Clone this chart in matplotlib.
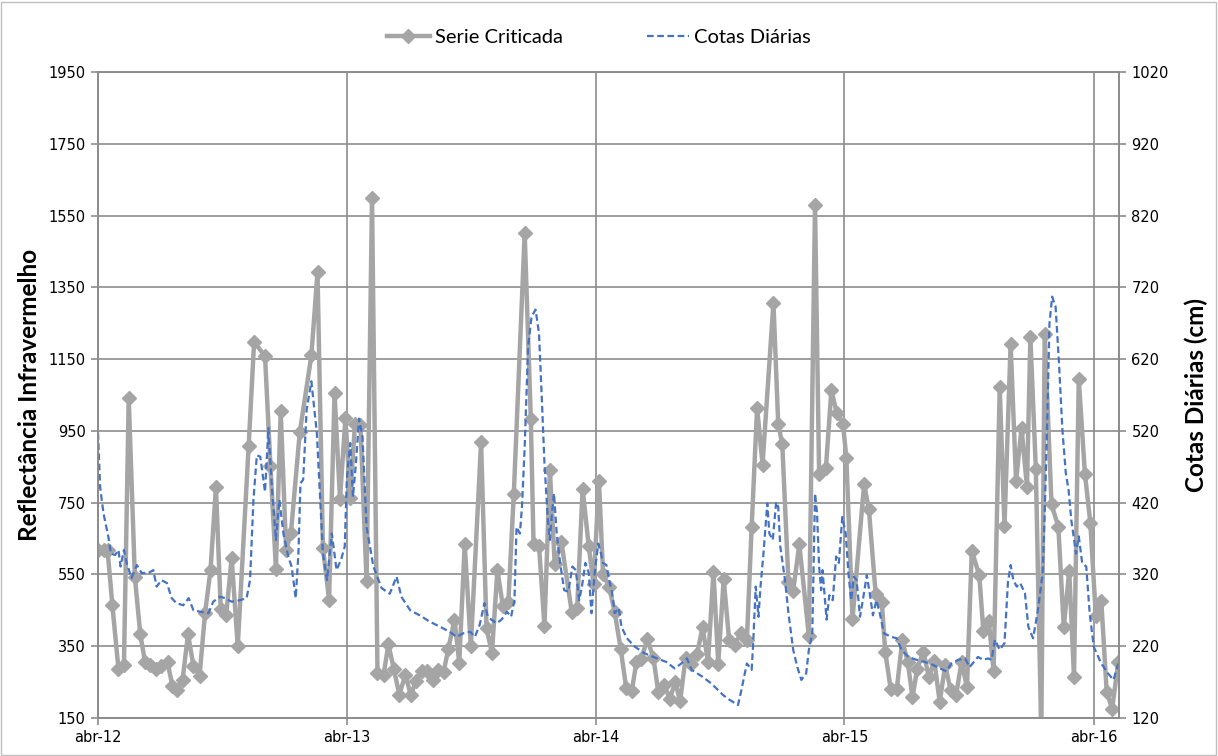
import numpy as np
import matplotlib.pyplot as plt
from matplotlib.patches import Rectangle

# dias contados a partir de 01/04/2012
INICIO = np.datetime64('2012-04-01')
FIM_DIAS = 1498

serie_dias = [0, 8, 14, 21, 30, 38, 45, 54, 62, 69, 76, 85, 93, 102, 109, 116, 124, 132, 140, 149,
              157, 165, 173, 180, 188, 196, 205, 221, 229, 245, 253, 261, 268, 276, 283, 296, 313, 322,
              330, 339, 347, 355, 363, 370, 377, 385, 394, 402, 410, 419, 426, 434, 442, 451, 459, 466,
              475, 483, 491, 499, 507, 514, 523, 530, 538, 547, 562, 570, 578, 586, 594, 602, 610, 626,
              635, 639, 647, 655, 663, 670, 680, 695, 703, 711, 720, 727, 735, 741, 750, 758, 767, 775,
              783, 790, 797, 806, 815, 822, 831, 839, 847, 854, 862, 870, 879, 887, 895, 903, 910, 918,
              926, 934, 943, 952, 959, 967, 975, 991, 998, 1004, 1013, 1020, 1029, 1043, 1052, 1058,
              1068, 1076, 1084, 1093, 1098, 1107, 1124, 1131, 1141, 1150, 1155, 1163, 1172, 1180, 1188,
              1195, 1202, 1211, 1219, 1227, 1235, 1243, 1251, 1259, 1267, 1275, 1282, 1293, 1299, 1307,
              1314, 1323, 1330, 1339, 1347, 1355, 1363, 1368, 1376, 1384, 1389, 1399, 1409, 1417, 1425,
              1432, 1439, 1448, 1456, 1464, 1472, 1480, 1488, 1497]
serie_refl = [619, 617, 617, 464, 286, 298, 1041, 543, 383, 305, 297, 286, 294, 305, 240, 229, 256, 383,
              295, 268, 442, 562, 793, 455, 436, 596, 350, 909, 1198, 1158, 851, 566, 1005, 617, 666,
              946, 1160, 1392, 624, 479, 1055, 760, 987, 764, 970, 965, 531, 1600, 276, 270, 355, 287,
              215, 270, 213, 252, 282, 282, 255, 285, 278, 343, 424, 304, 634, 350, 918, 400, 331, 563,
              461, 472, 773, 1500, 983, 634, 630, 406, 841, 579, 639, 446, 456, 789, 628, 523, 810, 551,
              514, 446, 341, 233, 224, 306, 315, 369, 317, 222, 241, 204, 250, 196, 316, 301, 329, 403,
              306, 558, 301, 537, 366, 352, 387, 366, 681, 1014, 856, 1307, 970, 912, 530, 505, 634, 378,
              1580, 829, 847, 1063, 1000, 970, 875, 426, 801, 733, 495, 474, 335, 231, 231, 366, 307,
              208, 287, 335, 264, 310, 194, 298, 227, 213, 307, 235, 616, 548, 393, 421, 282, 1072, 685,
              1193, 810, 958, 794, 1211, 844, 100, 1220, 745, 683, 403, 560, 264, 1094, 831, 693, 435,
              477, 222, 176, 306]

cota_dias = [0, 3, 8, 15, 19, 25, 30, 33, 38, 42, 49, 57, 64, 74, 81, 86, 93, 101, 108, 115, 125, 133,
             140, 150, 162, 169, 179, 186, 196, 208, 218, 223, 228, 233, 238, 245, 250, 255, 261, 266,
             272, 279, 284, 290, 294, 297, 301, 306, 313, 321, 326, 330, 336, 343, 350, 357, 362, 365,
             370, 374, 378, 383, 388, 394, 404, 416, 428, 438, 445, 458, 472, 487, 502, 516, 526, 536,
             546, 553, 560, 567, 572, 577, 585, 592, 600, 606, 611, 614, 619, 622, 626, 631, 636, 642,
             647, 651, 655, 660, 663, 666, 669, 673, 678, 684, 690, 696, 701, 706, 710, 715, 720, 724,
             729, 734, 738, 741, 746, 750, 754, 758, 764, 768, 776, 788, 802, 820, 834, 846, 856, 864,
             871, 886, 900, 917, 927, 939, 944, 952, 959, 961, 965, 969, 972, 976, 982, 985, 990, 995,
             998, 1001, 1008, 1013, 1020, 1026, 1032, 1039, 1043, 1048, 1052, 1055, 1058, 1061, 1063,
             1069, 1073, 1078, 1083, 1087, 1092, 1097, 1101, 1105, 1109, 1113, 1118, 1123, 1128, 1133,
             1137, 1142, 1147, 1153, 1164, 1172, 1179, 1189, 1201, 1213, 1225, 1235, 1245, 1252, 1262,
             1272, 1279, 1285, 1291, 1299, 1306, 1311, 1316, 1323, 1330, 1335, 1339, 1343, 1348, 1353,
             1360, 1365, 1372, 1379, 1386, 1389, 1393, 1396, 1400, 1405, 1410, 1415, 1420, 1424, 1428,
             1435, 1439, 1444, 1450, 1455, 1461, 1472, 1482, 1490, 1497]
cota_cm = [517, 442, 405, 373, 349, 347, 354, 331, 354, 336, 315, 333, 322, 322, 326, 303, 312, 308, 287,
           280, 277, 287, 270, 268, 266, 282, 289, 287, 282, 284, 287, 312, 424, 486, 484, 435, 524, 442,
           368, 424, 377, 345, 331, 287, 349, 447, 452, 549, 589, 517, 424, 349, 312, 377, 326, 342, 359,
           452, 503, 428, 470, 537, 512, 386, 331, 301, 293, 317, 289, 270, 263, 254, 247, 240, 233, 238,
           240, 233, 250, 280, 261, 257, 252, 257, 268, 261, 284, 386, 377, 414, 498, 637, 679, 689, 656,
           568, 475, 396, 368, 405, 433, 377, 336, 298, 296, 331, 326, 284, 303, 336, 322, 266, 326, 363,
           349, 336, 333, 312, 296, 266, 273, 247, 231, 219, 210, 203, 198, 189, 196, 203, 187, 178, 168,
           152, 145, 138, 159, 196, 187, 219, 303, 261, 303, 345, 419, 377, 368, 421, 414, 359, 312, 266,
           215, 191, 173, 182, 215, 238, 433, 405, 331, 298, 326, 257, 291, 284, 345, 336, 400, 377, 322,
           284, 317, 312, 261, 289, 319, 289, 263, 284, 266, 238, 233, 231, 215, 205, 201, 198, 194, 189,
           185, 196, 201, 203, 191, 198, 205, 201, 203, 201, 229, 215, 224, 308, 333, 312, 303, 308, 294,
           247, 231, 270, 322, 405, 544, 670, 707, 693, 614, 521, 461, 438, 396, 349, 373, 336, 331, 266,
           219, 196, 182, 173, 196]

ticks_x = ['2012-04-01', '2013-04-01', '2014-04-01', '2015-04-01', '2016-04-01']
rotulos_x = ['abr-12', 'abr-13', 'abr-14', 'abr-15', 'abr-16']


def para_data(dias):
    return INICIO + np.array(dias, dtype='timedelta64[D]')


CINZA = '#A5A5A5'
AZUL = '#4472C4'
GRADE = '#8C8C8C'

fig = plt.figure(figsize=(12.18, 7.56), dpi=100)
ax = fig.add_axes([0.0805, 0.0503, 0.8382, 0.8545])
ax2 = ax.twinx()

l1, = ax.plot(para_data(serie_dias), serie_refl, color=CINZA, lw=3.2, marker='D', ms=7.5,
              label='Serie Criticada', zorder=3)
l2, = ax2.plot(para_data(cota_dias), cota_cm, color=AZUL, lw=1.6, ls=(0, (3, 1.6)),
               label='Cotas Diárias')

ax.set_xlim(INICIO, INICIO + np.timedelta64(FIM_DIAS, 'D'))
ax.set_xticks(np.array(ticks_x, dtype='datetime64[D]'))
ax.set_xticklabels(rotulos_x)

ax.set_ylim(150, 1950)
ax.set_yticks(np.arange(150, 1951, 200))
ax2.set_ylim(120, 1020)
ax2.set_yticks(np.arange(120, 1021, 100))

ax.set_axisbelow(True)
ax.grid(True, color=GRADE, lw=1.2)
for a in (ax, ax2):
    for s in a.spines.values():
        s.set_color(GRADE)
        s.set_linewidth(1.2)
    a.tick_params(length=5, width=1.2, color=GRADE, labelsize=10.5, labelcolor='black', pad=4)

ax.set_ylabel('Reflectância Infravermelho', fontsize=17.5, fontweight='bold', family='Lato', labelpad=5)
ax2.set_ylabel('Cotas Diárias (cm)', fontsize=17.5, fontweight='bold', family='Lato', labelpad=11)

fig.legend([l1, l2], ['Serie Criticada', 'Cotas Diárias'], loc='center', bbox_to_anchor=(0.492, 0.951),
           ncol=2, frameon=False, columnspacing=4.2, handlelength=2.1, handletextpad=0.25,
           prop={'family': 'Lato', 'size': 14.5})

fig.patches.append(Rectangle((0.001, 0.001), 0.997, 0.997, transform=fig.transFigure,
                             fill=False, edgecolor='#BFBFBF', lw=1))

fig.savefig('out.png', dpi=100)
